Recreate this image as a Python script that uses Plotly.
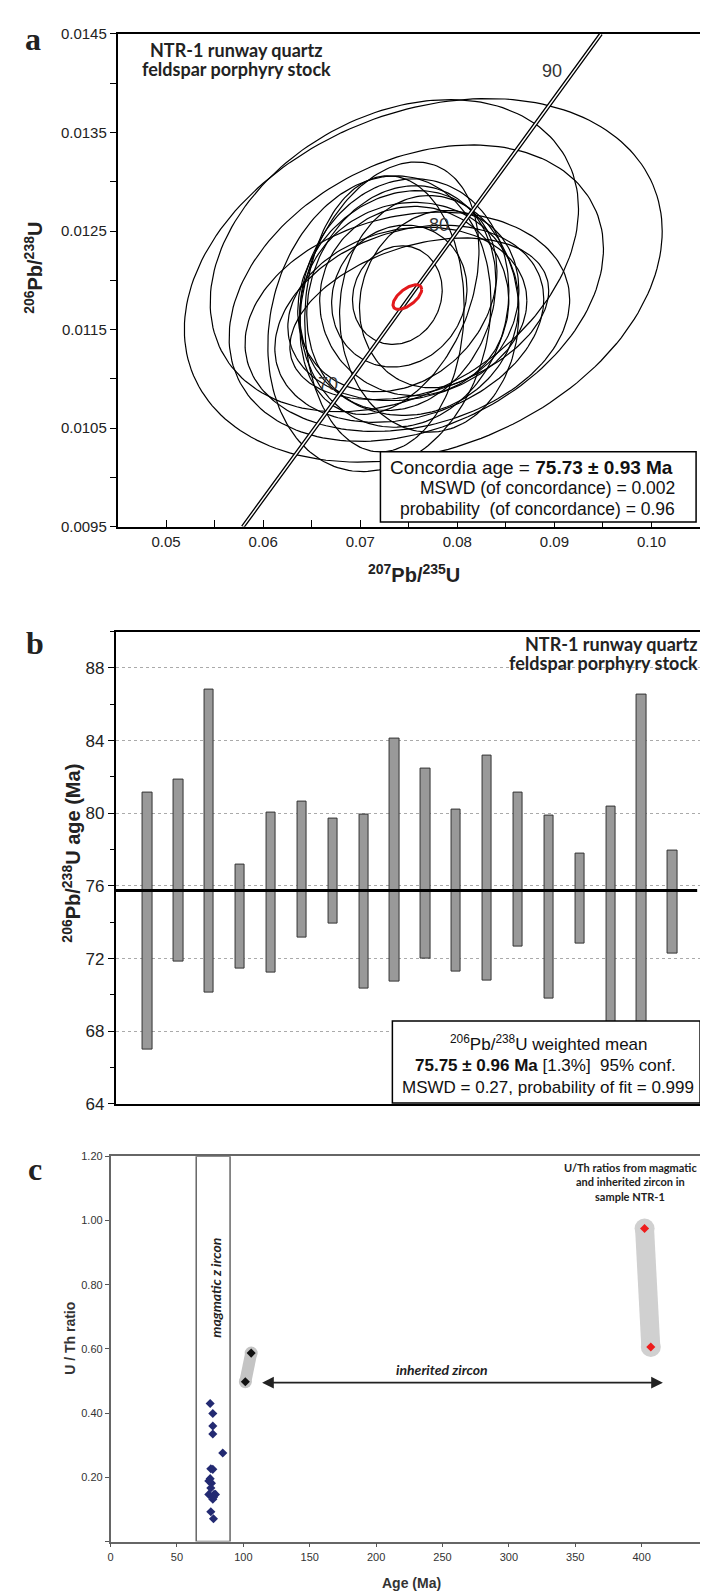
import numpy as np
import plotly.graph_objects as go

W, H = 708, 1594

# ---------------- Panel a data (concordia diagram) ----------------
conc_x = [0.0579, 0.0668, 0.0756, 0.0852, 0.0948]
conc_y = [0.0095, 0.0107, 0.0119, 0.0132, 0.0145]
age_labels = ["70", "80", "90"]
age_label_x = [0.0667, 0.0781, 0.0897]
age_label_y = [0.01095, 0.01256, 0.01412]

# error ellipses: centre, half-width (x), half-height (y), correlation
ell_cx = [0.07649, 0.07351, 0.07577, 0.07485, 0.07197, 0.07454, 0.07423, 0.07505, 0.07382,
          0.07556, 0.07485, 0.07402, 0.07382, 0.07608, 0.07300, 0.07710, 0.07505, 0.07249, 0.07813]
ell_cy = [0.01200, 0.01225, 0.01187, 0.01158, 0.01156, 0.01177, 0.01182, 0.01171, 0.01189,
          0.01179, 0.01166, 0.01184, 0.01185, 0.01161, 0.01192, 0.01166, 0.01156, 0.01166, 0.01181]
ell_hx = [0.02461, 0.01897, 0.01928, 0.01672, 0.01149, 0.01077, 0.00974, 0.01128, 0.01026,
          0.00974, 0.01231, 0.00697, 0.00462, 0.01333, 0.00923, 0.00923, 0.01385, 0.00821, 0.00821]
ell_hy = [0.001844, 0.001583, 0.001503, 0.001112, 0.00150, 0.00126, 0.00114, 0.00108, 0.00102,
          0.00096, 0.00088, 0.00072, 0.00050, 0.00082, 0.00128, 0.00120, 0.00100, 0.00140, 0.00090]
ell_rho = [0.27, 0.30, 0.30, 0.20, 0.15, 0.10, 0.15, 0.05, 0.20,
           0.00, 0.15, 0.10, 0.10, 0.35, 0.30, 0.00, 0.25, 0.05, 0.10]

conc_age_x = [0.07485]
conc_age_y = [0.01183]
conc_age_hx = [0.00148]
conc_age_hy = [0.000125]
conc_age_rho = [0.62]

# ---------------- Panel b data (206Pb/238U ages) ----------------
bar_low = [67.0, 71.85, 70.1, 71.45, 71.25, 73.15, 73.9, 70.35, 70.75,
           72.0, 71.3, 70.8, 72.65, 69.8, 72.8, 67.6, 65.4, 72.3]
bar_high = [81.15, 81.85, 86.8, 77.15, 80.05, 80.65, 79.7, 79.95, 84.1,
            82.45, 80.2, 83.15, 81.15, 79.85, 77.8, 80.35, 86.55, 77.95]
weighted_mean = 75.75

# ---------------- Panel c data (U/Th ratios) ----------------
mag_age = [75.0, 77.0, 77.0, 77.0, 84.5, 75.5, 77.0, 75.0, 74.0, 76.0, 75.5,
           74.0, 78.0, 79.0, 77.0, 77.5, 75.5, 77.5]
mag_uth = [0.430, 0.399, 0.360, 0.335, 0.276, 0.227, 0.225, 0.196, 0.189, 0.182, 0.167,
           0.147, 0.147, 0.147, 0.132, 0.138, 0.093, 0.071]
inh1_age = [101.5, 105.9]
inh1_uth = [0.498, 0.587]
inh2_age = [402.2, 406.9]
inh2_uth = [0.975, 0.606]
mag_band = [64.5, 90.0]
inh_arrow = [113.0, 416.0]
inh_arrow_y = 0.495

FONT = "Liberation Sans, Arial, sans-serif"
TFONT = "Lato, Open Sans, sans-serif"
SERIF = "Liberation Serif, DejaVu Serif, serif"


def P(px, py):
    return px / W, 1 - py / H


fig = go.Figure()

# ---- panel a traces
tt = np.linspace(0, 2 * np.pi, 181)


def ell(cx, cy, hx, hy, r):
    xs = cx + hx * np.cos(tt)
    ys = cy + hy * (r * np.cos(tt) + np.sqrt(1 - r * r) * np.sin(tt))
    return list(xs), list(ys)


ex, ey = [], []
for i in range(len(ell_cx)):
    xs, ys = ell(ell_cx[i], ell_cy[i], ell_hx[i], ell_hy[i], ell_rho[i])
    ex += xs + [None]
    ey += ys + [None]
fig.add_trace(go.Scatter(x=ex, y=ey, mode="lines", line=dict(color="black", width=1.2),
                         xaxis="x", yaxis="y", hoverinfo="skip", showlegend=False))
fig.add_trace(go.Scatter(x=conc_x, y=conc_y, mode="lines", line=dict(color="black", width=4, shape="spline"),
                         xaxis="x", yaxis="y", hoverinfo="skip", showlegend=False))
fig.add_trace(go.Scatter(x=conc_x, y=conc_y, mode="lines", line=dict(color="white", width=1.4, shape="spline"),
                         xaxis="x", yaxis="y", hoverinfo="skip", showlegend=False))
rx, ry = ell(conc_age_x[0], conc_age_y[0], conc_age_hx[0], conc_age_hy[0], conc_age_rho[0])
fig.add_trace(go.Scatter(x=rx, y=ry, mode="lines", line=dict(color="#e3191c", width=3),
                         xaxis="x", yaxis="y", hoverinfo="skip", showlegend=False))

# ---- panel b traces
idx = list(range(1, len(bar_low) + 1))
fig.add_trace(go.Bar(x=idx, y=[h - l for h, l in zip(bar_high, bar_low)], base=bar_low, width=0.3,
                     marker=dict(color="#999999", line=dict(color="#333333", width=1)),
                     xaxis="x2", yaxis="y2", hoverinfo="skip", showlegend=False))

# ---- panel c traces
fig.add_trace(go.Scatter(x=inh1_age, y=inh1_uth, mode="lines+markers",
                         line=dict(color="#c4c4c4", width=12),
                         marker=dict(color="#c4c4c4", size=13, symbol="circle"),
                         xaxis="x3", yaxis="y3", hoverinfo="skip", showlegend=False))
fig.add_trace(go.Scatter(x=inh2_age, y=inh2_uth, mode="lines+markers",
                         line=dict(color="#d0d0d0", width=19),
                         marker=dict(color="#d0d0d0", size=20, symbol="circle"),
                         xaxis="x3", yaxis="y3", hoverinfo="skip", showlegend=False))
fig.add_trace(go.Scatter(x=mag_age, y=mag_uth, mode="markers",
                         marker=dict(color="#232a72", size=7, symbol="diamond"),
                         xaxis="x3", yaxis="y3", hoverinfo="skip", showlegend=False))
fig.add_trace(go.Scatter(x=inh1_age, y=inh1_uth, mode="markers",
                         marker=dict(color="#111111", size=7, symbol="diamond"),
                         xaxis="x3", yaxis="y3", hoverinfo="skip", showlegend=False))
fig.add_trace(go.Scatter(x=inh2_age, y=inh2_uth, mode="markers",
                         marker=dict(color="#ee1c1c", size=7, symbol="diamond"),
                         xaxis="x3", yaxis="y3", hoverinfo="skip", showlegend=False))

# ---- axes
axline = dict(showline=True, linecolor="black", linewidth=1.5, mirror=True, showgrid=False, zeroline=False)
fig.update_layout(
    xaxis=dict(domain=[107 / W, 692 / W], anchor="y", range=[0.045, 0.105], tick0=0.05, dtick=0.01,
               tickformat=".2f", ticks="inside", ticklen=7, tickcolor="black",
               minor=dict(ticks="inside", ticklen=7, tick0=0.045, dtick=0.01, tickcolor="black"),
               tickfont=dict(family=FONT, size=15, color="#222"), **axline),
    yaxis=dict(domain=[1 - 516 / H, 1 - 17 / H], anchor="x", range=[0.0095, 0.0145], tick0=0.0095, dtick=0.001,
               tickformat=".4f", ticks="outside", ticklen=6, tickcolor="black",
               minor=dict(ticks="outside", ticklen=6, tick0=0.0090, dtick=0.001, tickcolor="black"),
               tickfont=dict(family=FONT, size=15, color="#222"), **axline),
    xaxis2=dict(domain=[105 / W, 695 / W], anchor="y2", range=[-0.04, 18.99], showticklabels=False,
                ticks="", **axline),
    yaxis2=dict(domain=[1 - 1100 / H, 1 - 622 / H], anchor="x2", range=[64, 90], tick0=64, dtick=4,
                ticks="outside", ticklen=6, tickcolor="black",
                minor=dict(ticks="outside", ticklen=4, tick0=66, dtick=4, tickcolor="black"),
                tickfont=dict(family=FONT, size=17, color="#222"),
                showline=True, linecolor="black", linewidth=1.5, mirror=True, zeroline=False,
                showgrid=True, gridcolor="#aaaaaa", gridwidth=1, griddash="dot"),
    xaxis3=dict(domain=[100 / W, 700 / W], anchor="y3", range=[0, 450], tick0=0, dtick=50,
                ticks="outside", ticklen=4, tickcolor="#555", tickfont=dict(family=FONT, size=11, color="#333"),
                showline=True, linecolor="#666", linewidth=1.5, mirror=True, showgrid=False, zeroline=False),
    yaxis3=dict(domain=[1 - 1543 / H, 1 - 1153 / H], anchor="x3", range=[0, 1.2],
                tickvals=[0, 0.2, 0.4, 0.6, 0.8, 1.0, 1.2],
                ticktext=["", "0.20", "0.40", "0.60", "0.80", "1.00", "1.20"],
                ticks="outside", ticklen=4, tickcolor="#555", tickfont=dict(family=FONT, size=11, color="#333"),
                showline=True, linecolor="#666", linewidth=1.5, mirror=True, showgrid=False, zeroline=False),
)

shapes = []
# panel a stats box
x0, y1 = P(371, 440)
x1, y0 = P(688, 511)
shapes.append(dict(type="rect", xref="paper", yref="paper", x0=x0, x1=x1, y0=y0, y1=y1,
                   fillcolor="white", line=dict(color="black", width=1.5), layer="above"))
# panel b mean line and box
shapes.append(dict(type="line", xref="x2 domain", yref="y2", x0=0, x1=0.99, y0=weighted_mean, y1=weighted_mean,
                   line=dict(color="black", width=3), layer="above"))
x0, y1 = P(383, 1016)
x1, y0 = P(692, 1099)
shapes.append(dict(type="rect", xref="paper", yref="paper", x0=x0, x1=x1, y0=y0, y1=y1,
                   fillcolor="white", line=dict(color="black", width=1.5), layer="above"))
# panel c magmatic band
shapes.append(dict(type="rect", xref="x3", yref="y3", x0=mag_band[0], x1=mag_band[1], y0=0, y1=1.2,
                   line=dict(color="#666", width=1.5), layer="above"))
fig.update_layout(shapes=shapes)

ann = []


def A(px, py, text, size, family=FONT, color="#111", xanchor="center", yanchor="middle", angle=0, **kw):
    x, y = P(px, py)
    ann.append(dict(x=x, y=y, xref="paper", yref="paper", text=text, showarrow=False,
                    font=dict(family=family, size=size, color=color), xanchor=xanchor, yanchor=yanchor,
                    textangle=angle, **kw))


# panel a text
A(22, 22, "<b>a</b>", 32, family=SERIF, color="#222")
A(226, 33, "<b>NTR-1 runway quartz</b>", 18, family=TFONT, color="#222")
A(226, 53, "<b>feldspar porphyry stock</b>", 18, family=TFONT, color="#222")
A(23, 254, "<b><sup>206</sup>Pb/<sup>238</sup>U</b>", 20, color="#222", angle=-90)
A(405, 563, "<b><sup>207</sup>Pb/<sup>235</sup>U</b>", 20, color="#222")
A(667, 456, "Concordia age = <b>75.73 ± 0.93 Ma</b>", 19, xanchor="right")
A(669, 477, "MSWD (of concordance) = 0.002", 17.5, xanchor="right")
A(669, 498, "probability \u00a0(of concordance) = 0.96", 17.5, xanchor="right")
for lab, lx, ly in zip(age_labels, age_label_x, age_label_y):
    ann.append(dict(x=lx, y=ly, xref="x", yref="y", text=lab, showarrow=False,
                    font=dict(family=FONT, size=18, color="#333")))

# panel b text
A(24, 634, "<b>b</b>", 32, family=SERIF, color="#222")
A(692, 635, "<b>NTR-1 runway quartz</b>", 18, family=TFONT, color="#222", xanchor="right")
A(692, 654, "<b>feldspar porphyry stock</b>", 18, family=TFONT, color="#222", xanchor="right")
A(61, 846, "<b><sup>206</sup>Pb/<sup>238</sup>U age (Ma)</b>", 20, color="#222", angle=-90)
A(540, 1038, "<sup>206</sup>Pb/<sup>238</sup>U weighted mean", 17)
A(537, 1061, "<b>75.75 ± 0.96 Ma</b> [1.3%] \u00a095% conf.", 17)
A(539, 1083, "MSWD = 0.27, probability of fit = 0.999", 17)

# panel c text
A(24, 1166, "<b>c</b>", 32, family=SERIF, color="#222")
A(622, 1164, "<b>U/Th ratios from magmatic</b>", 11, family=TFONT, color="#222")
A(622, 1179, "<b>and inherited zircon in</b>", 11, family=TFONT, color="#222")
A(622, 1194, "<b>sample NTR-1</b>", 11, family=TFONT, color="#222")
A(59, 1337, "<b>U / Th ratio</b>", 14, color="#333", angle=-90)
A(402, 1585, "<b>Age (Ma)</b>", 14, color="#333")
ann.append(dict(x=sum(mag_band) / 2 + 2, y=0.79, xref="x3", yref="y3", text="<b><i>magmatic z ircon</i></b>",
                showarrow=False, textangle=-90, font=dict(family=TFONT, size=14, color="#222")))
ann.append(dict(x=250, y=0.535, xref="x3", yref="y3", text="<b><i>inherited zircon</i></b>",
                showarrow=False, font=dict(family=TFONT, size=14, color="#222")))
ann.append(dict(x=inh_arrow[1], y=inh_arrow_y, ax=inh_arrow[0], ay=inh_arrow_y, xref="x3", yref="y3",
                axref="x3", ayref="y3", text="", showarrow=True, arrowhead=2, arrowside="end+start",
                arrowsize=1.3, arrowwidth=1.8, arrowcolor="#222"))

fig.update_layout(annotations=ann, width=W, height=H, margin=dict(l=0, r=0, t=0, b=0),
                  paper_bgcolor="white", plot_bgcolor="white", showlegend=False,
                  font=dict(family=FONT, color="#222"), bargap=0)

fig.write_html("out.html")
